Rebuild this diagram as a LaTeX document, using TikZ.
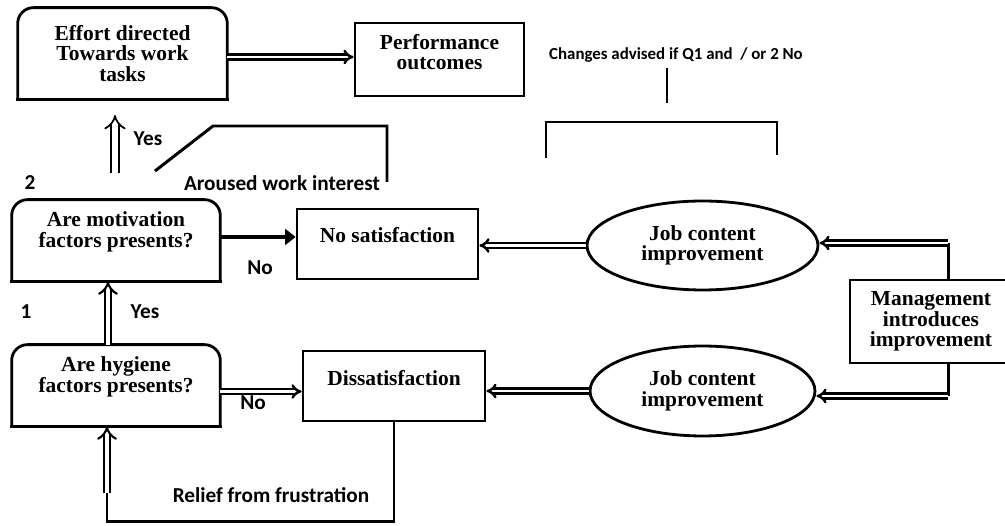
\documentclass[tikz,border=0pt]{standalone}
\usepackage{fontspec}
\setmainfont{Liberation Serif}
\newfontfamily\lblfont{Carlito}
\usetikzlibrary{arrows.meta,shapes.geometric}

\begin{document}
\begin{tikzpicture}[x=0.02cm, y=-0.02cm, >=Stealth]
    \tikzstyle{txt} = [align=center, inner sep=0pt,
	font=\fontsize{12.2}{11.6}\selectfont\bfseries]
    \tikzstyle{format} = [txt, draw, line width=1.6pt]
    \tikzstyle{oval} = [format, ellipse]
    \tikzstyle{lbl} = [inner sep=0pt, font=\lblfont\fontsize{12.1}{12}\selectfont\bfseries]
    \tikzstyle{dbl} = [double, double distance=1.2pt, line width=1.4pt, -{Implies}]
    \tikzstyle{dblv} = [dbl, double distance=2.6pt, line width=1.2pt]
    \tikzstyle{wire} = [line width=1.7pt]

	\useasboundingbox (0,0) rectangle (1005,526);

	% boxes
	\node[txt, minimum width=4.18cm, minimum height=1.82cm] (effort) at (122.5,53.5) {Effort directed\\Towards work\\tasks};
	\node[format, minimum width=3.38cm, minimum height=1.46cm,
		label={[txt, yshift=0.15cm]center:Performance\\outcomes}] (perf) at (439.5,59.5) {};
	\node[minimum width=4.16cm, minimum height=1.62cm,
		label={[txt, yshift=0.17cm]center:Are motivation\\factors presents?}] (q_2) at (116,240.5) {};
	\node[minimum width=4.16cm, minimum height=1.62cm,
		label={[txt, yshift=0.17cm]center:Are hygiene\\factors presents?}] (q_1) at (116,385.5) {};
	\node[format, minimum width=3.62cm, minimum height=1.4cm,
		label={[txt, yshift=0.18cm]center:No satisfaction}] (no_sat) at (387.5,244) {};
	\node[format, minimum width=3.64cm, minimum height=1.4cm,
		label={[txt, yshift=0.16cm]center:Dissatisfaction}] (dis_sat) at (394,386) {};
	\node[oval, minimum width=4.62cm, minimum height=1.78cm] (job_1) at (702.5,245.5) {Job content\\improvement};
	\node[oval, minimum width=4.5cm, minimum height=1.8cm] (job_2) at (702.5,391) {Job content\\improvement};
	\node[format, minimum width=3.24cm, minimum height=1.66cm] (mgmt) at (931,321.5) {Management\\introduces\\improvement};

	% boxes with rounded top
	\foreach \n in {effort, q_2, q_1} {
		\draw[line width=1.6pt, line cap=rect, rounded corners=9pt]
			(\n.south west) -- (\n.north west) -- (\n.north east) -- (\n.south east);
		\draw[line width=1.6pt, line cap=rect] (\n.south west) -- (\n.south east);
	}

	% labels
	\node[lbl] (yes_2) at (148,139) {Yes};
	\node[lbl] (num_2) at (30,183) {2};
	\node[lbl] (aroused) at (282,183) {Aroused work interest};
	\node[lbl] (no_2) at (260,268) {No};
	\node[lbl] (yes_1) at (145,312) {Yes};
	\node[lbl] (num_1) at (26,312) {1};
	\node[lbl] (no_1) at (253,403) {No};
	\node[lbl] (relief) at (271,495) {Relief from frustration};
	\node[lbl, font=\lblfont\fontsize{9.6}{10}\selectfont\bfseries] (chg) at (676,55) {Changes advised if Q1 and\ \ / or 2 No};

	\coordinate (up_top) at (115,115);
	\coordinate (up_bot) at (115,173);
	\coordinate (a_1) at (155,171);
	\coordinate (a_2) at (213,126);
	\coordinate (a_3) at (387,182);
	\coordinate (m_top) at (948,243);
	\coordinate (m_bot) at (948,396);
	\coordinate (r_end) at (107,493);
	\coordinate (b_top) at (667,68);
	\coordinate (b_mid) at (667,103);
	\coordinate (b_l) at (546,158);
	\coordinate (b_r) at (777,155);

	% connectors
	\draw[dbl] ([yshift=-0.07cm]effort.east) -- ([yshift=-0.07cm]effort.east -| perf.west);
	\draw[dblv, double distance=3.2pt, line width=1pt] (up_bot) -- (up_top);
	\draw[wire] (a_1) -- (a_2) -| (a_3);
	\draw[line width=2.8pt, -{Triangle[length=6pt, width=9pt]}] ([yshift=0.07cm]q_2.east) -- ([yshift=0.07cm]q_2.east -| no_sat.west);
	\draw[dbl] (job_1.west) -- (job_1.west -| no_sat.east);
	\draw[wire] (m_top |- mgmt.north) -- (m_top);
	\draw[dbl] (m_top) -- (m_top -| job_1.east);
	\draw[wire] (m_bot |- mgmt.south) -- (m_bot);
	\draw[dbl] (m_bot) -- (m_bot -| job_2.east);
	\draw[dbl] (job_2.west) -- (job_2.west -| dis_sat.east);
	\draw[dbl] ([yshift=-0.12cm]q_1.east) -- ([yshift=-0.12cm]q_1.east -| dis_sat.west);
	\draw[dblv] ([xshift=-0.16cm]q_1.north) -- ([xshift=-0.16cm]q_2.south);
	\draw[wire] (dis_sat.south) -- ++(0,99) -| (r_end);
	\draw[dblv] (r_end) -- (r_end |- q_1.south);
	\draw[wire] (b_top) -- (b_mid);
	\draw[wire] (b_l) |- (b_r |- 0,122) -- (b_r);
\end{tikzpicture}
\end{document}
